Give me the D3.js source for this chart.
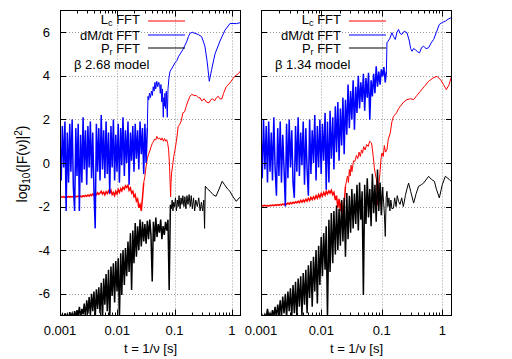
<!DOCTYPE html>
<meta charset="utf-8">
<style>
body { margin: 0; background: #fff; }
svg { font-family: "Liberation Sans", Arial, sans-serif; font-size: 13px; }
.grid line { stroke: #9a9a9a; stroke-width: 1; stroke-dasharray: 1,2; }
.frame { fill: none; stroke: #000; stroke-width: 1; }
.ticks line { stroke: #000; stroke-width: 1; }
.series { fill: none; }
</style>
<svg width="512" height="359"></svg>
<script src="https://d3js.org/d3.v7.min.js"></script>
<script>

// periods (s) of the densely sampled low-t part shared by every spectrum
var tGrid = [0.00100,0.00105,0.00110,0.00116,0.00122,0.00128,0.00134,0.00141,0.00148,0.00155,
  0.00163,0.00171,0.00180,0.00189,0.00198,0.00208,0.00218,0.00229,0.00241,0.00253,
  0.00265,0.00279,0.00293,0.00307,0.00323,0.00339,0.00356,0.00373,0.00392,0.00412,
  0.00432,0.00454,0.00476,0.00500,0.00525,0.00552,0.00579,0.00608,0.00638,0.00670,
  0.00704,0.00739,0.00776,0.00815,0.00856,0.00899,0.00943,0.00991,0.0104,0.0109,
  0.0115,0.0120,0.0126,0.0133,0.0139,0.0146,0.0154,0.0161,0.0170,0.0178,
  0.0187,0.0196,0.0206,0.0216,0.0227,0.0238,0.0250,0.0263,0.0276,0.0290,
  0.0304,0.0319,0.0335,0.0352,0.0370,0.0388,0.0408,0.0428,0.0449,0.0472,
  0.0495,0.0520,0.0546,0.0574,0.0602,0.0632,0.0664,0.0697,0.0732,0.0769,
  0.0807,0.0848,0.0890,0.0935,0.0981,0.103,0.108,0.114,0.119];

// ---- beta 2.68 model (left panel)
var lcLeftNoise = [-1.58,-1.55,-1.57,-1.54,-1.58,-1.55,-1.57,-1.53,-1.57,-1.54,
  -1.56,-1.52,-1.57,-1.53,-1.55,-1.51,-1.56,-1.52,-1.55,-1.50,
  -1.54,-1.49,-1.53,-1.47,-1.52,-1.45,-1.50,-1.42,-1.48,-1.40,
  -1.46,-1.36,-1.44,-1.38,-1.30,-1.42,-1.34,-1.46,-1.32,-1.40,
  -1.28,-1.38,-1.25,-1.45,-1.35,-1.50,-1.30,-1.42,-1.22,-1.35,
  -1.18,-1.28,-1.12,-1.20,-1.05,-1.12,-1.02,-1.25,-1.15,-1.38,
  -1.30,-1.55,-1.45,-1.75,-1.65,-2.05,-1.90,-2.20,-1.60,-0.90];
var lcLeftTail = [[0.0304,-0.62],[0.0319,-0.15],[0.0335,0.2],[0.0352,0.4],[0.037,0.55],[0.039,0.75],
  [0.041,0.9],[0.043,1.0],[0.045,1.1],[0.047,1.05],[0.049,1.22],[0.052,1.1],[0.055,1.15],
  [0.058,1.05],[0.061,1.15],[0.064,1.0],[0.067,1.12],[0.070,1.0],[0.073,1.07],[0.076,0.9],
  [0.079,0.6],[0.082,-0.15],[0.084,-1.0],[0.0855,-1.55],[0.087,-0.9],[0.089,-0.46],[0.093,-0.1],
  [0.097,0.3],[0.102,0.61],[0.108,1.0],[0.116,1.68],[0.122,1.75],[0.13,1.9],[0.14,2.3],
  [0.15,2.35],[0.16,2.6],[0.17,2.8],[0.186,3.06],[0.20,3.15],[0.22,3.1],[0.24,3.1],[0.26,3.0],
  [0.28,2.99],[0.30,2.85],[0.33,2.95],[0.36,2.8],[0.40,2.76],[0.43,2.9],[0.46,2.95],[0.50,2.85],
  [0.54,3.0],[0.58,3.06],[0.62,2.95],[0.67,2.94],[0.72,3.2],[0.80,3.5],[0.93,3.68],[1.1,3.95],
  [1.3,4.1],[1.45,4.25]];

var dmLeftNoise = [1.2,-0.8,1.7,-0.2,1.9,-2.2,1.4,-0.9,1.8,-0.4,
  2.0,-1.1,-2.2,1.6,-0.6,1.8,-2.2,1.3,-0.9,2.1,
  -0.3,1.5,-1.0,1.7,-0.2,1.9,-0.7,1.4,-1.3,-3.0,
  1.8,-0.4,1.6,-0.8,2.2,-0.3,1.5,-0.7,1.9,-0.5,
  1.4,-1.4,1.7,-0.2,2.0,-0.8,1.3,-0.4,1.8,-0.9,
  1.6,-0.1,2.1,-0.6,1.5,0.0,1.9,-1.0,1.4,0.1,
  1.7,-0.4,1.8,0.2,1.5,-0.3,1.9,0.4,1.6,-0.5,
  1.8,0.0,1.6];
var dmLeftTail = [[0.0344,3.06],[0.0355,2.9],[0.0365,3.2],[0.0380,3.0],[0.0395,3.3],[0.0410,3.1],
  [0.0425,3.5],[0.0440,3.3],[0.0456,3.7],[0.0470,3.4],[0.0490,3.75],[0.0510,3.5],[0.0530,3.7],
  [0.0550,3.6],[0.0565,3.2],[0.0580,3.6],[0.0600,2.8],[0.0615,3.4],[0.0637,2.1],[0.0650,3.0],
  [0.0665,2.6],[0.0680,3.2],[0.0700,2.5],[0.0720,3.3],[0.0748,2.1],[0.0770,3.4],[0.0800,3.9],
  [0.0834,4.2],[0.0880,4.3],[0.095,4.45],[0.102,4.6],[0.110,4.7],[0.118,4.9],[0.125,5.0],
  [0.140,5.2],[0.152,5.4],[0.165,5.6],[0.175,5.8],[0.186,5.95],[0.205,6.0],[0.228,5.95],
  [0.26,5.9],[0.298,5.8],[0.34,5.36],[0.374,4.6],[0.405,3.75],[0.446,4.3],[0.509,5.0],
  [0.623,5.6],[0.762,6.1],[0.931,6.4],[1.22,6.4],[1.45,6.45]];

var prLeftNoise = [-7.2,-7.1,-6.95,-7.2,-6.9,-7.1,-6.95,-7.2,-6.85,-7.05,
  -6.9,-7.15,-6.8,-7.1,-6.75,-7.0,-6.6,-7.1,-6.7,-6.95,
  -6.45,-7.1,-6.3,-6.9,-6.15,-7.0,-6.0,-6.8,-5.9,-7.1,
  -5.8,-6.7,-5.7,-6.9,-5.5,-7.2,-5.3,-6.5,-5.1,-6.8,
  -4.9,-7.2,-4.75,-6.1,-4.6,-6.4,-4.5,-5.9,-4.37,-7.2,
  -4.14,-6.06,-4.0,-5.6,-3.9,-5.2,-3.6,-5.0,-3.22,-5.83,
  -3.1,-4.6,-2.76,-4.3,-2.9,-4.0,-2.6,-3.83,-2.7,-3.6,
  -2.8,-3.7,-2.65,-3.5,-2.6,-3.3,-5.44,-2.7,-3.6,-2.5,
  -3.4,-2.8,-3.2,-2.6,-3.5,-2.9,-3.3,-2.7,-3.1,-2.6,
  -5.83,-1.92];
var prLeftTail = [[0.088,-2.1],[0.091,-1.7],[0.094,-2.2],[0.097,-1.8],[0.100,-2.0],[0.104,-1.6],
  [0.108,-2.2],[0.112,-1.7],[0.116,-2.0],[0.120,-1.5],[0.125,-2.1],[0.130,-1.6],[0.135,-1.9],
  [0.140,-1.5],[0.146,-2.0],[0.152,-1.55],[0.158,-2.1],[0.165,-1.5],[0.172,-1.9],[0.180,-1.45],
  [0.188,-2.0],[0.196,-1.5],[0.205,-2.1],[0.215,-1.6],[0.225,-2.2],[0.235,-1.7],[0.250,-2.0],
  [0.265,-1.6],[0.280,-2.2],[0.295,-1.8],[0.310,-2.2],[0.325,-1.7],[0.335,-3.0],[0.345,-1.07],
  [0.38,-1.2],[0.42,-1.3],[0.47,-1.45],[0.53,-1.53],[0.60,-1.2],[0.68,-0.84],[0.75,-1.0],
  [0.85,-1.2],[0.93,-1.3],[1.05,-1.55],[1.2,-1.76],[1.35,-1.6],[1.45,-1.53]];

// ---- beta 1.34 model (right panel)
var lcRightNoise = [-1.98,-1.95,-1.97,-1.94,-1.97,-1.95,-1.98,-1.94,-1.96,-1.93,
  -1.96,-1.92,-1.95,-1.91,-1.94,-1.90,-1.93,-1.88,-1.92,-1.86,
  -1.90,-1.84,-1.89,-1.82,-1.87,-1.80,-1.85,-1.78,-1.83,-1.75,
  -1.82,-1.72,-1.80,-1.70,-1.78,-1.66,-1.75,-1.62,-1.72,-1.58,
  -1.68,-1.55,-1.65,-1.50,-1.62,-1.45,-1.58,-1.40,-1.52,-1.35,
  -1.48,-1.30,-1.42,-1.28,-1.38,-1.25,-1.45,-1.35,-1.70,-1.50,
  -2.05,-1.65,-2.20,-1.75,-2.38,-1.90,-1.07];
var lcRightTail = [[0.0270,-0.6],[0.0280,-0.9],[0.0290,-0.3],[0.0299,-0.6],[0.031,-0.1],[0.032,-0.4],
  [0.034,0.1],[0.0358,0.07],[0.038,0.35],[0.040,0.2],[0.042,0.5],[0.044,0.3],[0.0461,0.6],
  [0.048,0.45],[0.050,0.75],[0.053,0.6],[0.056,0.85],[0.0595,0.76],[0.063,1.0],[0.0675,0.92],
  [0.070,0.6],[0.072,0.3],[0.075,-0.2],[0.078,-0.5],[0.0817,-0.77],[0.0849,-1.92],[0.0882,-1.2],
  [0.093,-0.46],[0.097,0.2],[0.1004,0.46],[0.1055,0.3],[0.110,0.8],[0.115,0.5],[0.1216,0.61],
  [0.1277,1.07],[0.1378,1.38],[0.147,1.9],[0.156,2.14],[0.175,2.3],[0.19,2.5],[0.202,2.6],
  [0.23,2.8],[0.261,2.91],[0.30,2.95],[0.336,2.91],[0.38,3.1],[0.433,3.29],[0.50,3.5],
  [0.595,3.75],[0.70,3.9],[0.82,3.98],[0.95,3.8],[1.05,3.6],[1.17,3.37],[1.30,3.6],[1.40,3.91],
  [1.46,4.0]];

var dmRightNoise = [1.5,-0.7,2.0,-0.3,1.7,-0.9,1.9,-0.4,1.4,-0.8,
  2.1,-0.2,-1.5,1.6,-0.6,1.9,-0.9,1.3,-0.3,-2.0,
  1.8,-0.7,2.0,-0.2,1.5,-0.9,-1.6,1.7,-0.4,2.1,
  -0.6,1.4,-0.1,1.9,-1.0,1.6,-0.3,-1.5,2.0,-0.5,
  1.5,0.0,2.2,-0.8,1.7,-0.2,2.0,-0.5,1.8,0.1,
  2.3,-1.23,1.9,-0.9,2.4,0.2,2.1,-0.3,2.6,0.5,
  2.8,0.1,2.5,0.8,3.0,0.4,2.9,1.3,3.6,1.6,
  3.3,2.0,3.8,1.53,3.5,2.3,4.0,2.5,3.7,2.8,
  4.1,2.4,3.9,3.0,4.14,1.99,3.8,3.06,4.1,3.2,
  4.44,3.5,4.2,3.6,4.3,3.98,4.4,3.7,4.21];
var dmRightTail = [[0.1216,5.52],[0.135,5.7],[0.147,5.98],[0.157,5.8],[0.167,5.67],[0.178,6.0],
  [0.189,6.13],[0.200,5.95],[0.215,5.9],[0.235,6.05],[0.261,5.98],[0.285,5.6],[0.300,5.25],
  [0.316,5.13],[0.335,5.25],[0.358,5.21],[0.390,5.1],[0.422,5.06],[0.455,5.3],[0.492,5.36],
  [0.540,5.25],[0.595,5.29],[0.650,5.5],[0.720,5.67],[0.80,6.0],[0.895,6.36],[1.0,6.45],
  [1.125,6.51],[1.25,6.6],[1.40,6.67],[1.46,6.7]];

var prRightNoise = [-7.2,-7.0,-7.15,-6.95,-7.1,-6.7,-7.05,-6.9,-7.1,-6.75,
  -7.05,-6.6,-7.1,-6.5,-7.0,-6.3,-7.1,-6.13,-6.9,-6.0,
  -7.1,-5.9,-6.8,-5.75,-7.05,-5.6,-6.9,-5.45,-7.1,-5.3,
  -6.6,-5.2,-7.0,-5.05,-6.5,-4.9,-6.9,-4.7,-6.2,-4.5,
  -6.6,-4.3,-5.9,-4.0,-6.45,-3.8,-5.6,-3.4,-5.2,-3.22,
  -4.9,-2.9,-7.1,-2.6,-5.0,-2.3,-4.6,-2.2,-4.2,-1.95,
  -4.0,-2.1,-3.8,-1.7,-3.6,-1.6,-4.3,-1.38,-3.5,-1.5,
  -3.2,-1.2,-3.0,-1.4,-2.8,-1.0,-3.1,-0.9,-2.6,-1.3,
  -6.06,-1.0,-2.8,-0.7,-2.5,-1.2,-2.9,-0.5,-2.3,-1.0,
  -2.7,-0.3,-2.2,-0.9,-2.4,-1.1];
var prRightTail = [[0.107,-1.8],[0.110,-2.3],[0.114,-3.37],[0.118,-1.6],[0.1216,-1.3],[0.126,-2.0],
  [0.131,-1.6],[0.136,-2.2],[0.141,-1.7],[0.147,-2.1],[0.156,-2.07],[0.163,-1.6],[0.172,-2.0],
  [0.180,-1.5],[0.189,-1.76],[0.200,-1.9],[0.213,-1.6],[0.227,-2.0],[0.245,-1.5],[0.260,-1.2],
  [0.277,-0.92],[0.30,-1.3],[0.336,-1.84],[0.37,-1.4],[0.406,-1.07],[0.45,-1.0],[0.492,-0.92],
  [0.595,-0.61],[0.66,-0.75],[0.740,-0.84],[0.80,-1.2],[0.895,-1.6],[1.0,-1.0],[1.125,-0.61],
  [1.3,-0.75],[1.40,-0.84],[1.46,-0.9]];

var yTicks = [-6, -4, -2, 0, 2, 4, 6];
var xTicks = [0.001, 0.01, 0.1, 1];
var xTickLabels = ["0.001", "0.01", "0.1", "1"];
var seriesNames = ["FFT", "dM/dt FFT", "FFT"];
var seriesColors = ["#ff0000", "#0000ff", "#000000"];

// noisy part and smooth tail are drawn as two joined paths
function build(noise, tail) {
  var pts = noise.map(function(y, i) { return [tGrid[i], y]; });
  return { noise: pts, tail: [pts[pts.length - 1]].concat(tail) };
}

var panels = [
  { id: "a", x0: 60, x1: 241, model: "\u03b2 2.68 model", yLabels: true,
    series: [build(lcLeftNoise, lcLeftTail), build(dmLeftNoise, dmLeftTail), build(prLeftNoise, prLeftTail)] },
  { id: "b", x0: 261, x1: 452, model: "\u03b2 1.34 model", yLabels: false,
    series: [build(lcRightNoise, lcRightTail), build(dmRightNoise, dmRightTail), build(prRightNoise, prRightTail)] }
];

var svg = d3.select("svg");
svg.append("rect").attr("width", 512).attr("height", 359).attr("fill", "#fff");

var y = d3.scaleLinear().domain([-7, 7]).range([315.5, 10.5]);

panels.forEach(function(p) {
  var x = d3.scaleLog().domain([0.001, 1.45]).range([p.x0, p.x1]);
  var g = svg.append("g");

  // dotted grid
  var grid = g.append("g").attr("class", "grid");
  grid.selectAll(".gx").data(xTicks.slice(1)).enter().append("line")
      .attr("x1", function(d) { return Math.round(x(d)) + 0.5; })
      .attr("x2", function(d) { return Math.round(x(d)) + 0.5; })
      .attr("y1", y(7)).attr("y2", y(-7));
  grid.selectAll(".gy").data(yTicks).enter().append("line")
      .attr("x1", p.x0).attr("x2", p.x1)
      .attr("y1", function(d) { return Math.round(y(d)) + 0.5; })
      .attr("y2", function(d) { return Math.round(y(d)) + 0.5; });

  // data
  g.append("clipPath").attr("id", "clip" + p.id).append("rect")
      .attr("x", p.x0).attr("y", y(7)).attr("width", p.x1 - p.x0).attr("height", y(-7) - y(7));
  var line = d3.line().x(function(d) { return x(d[0]); }).y(function(d) { return y(d[1]); });
  var data = g.append("g").attr("clip-path", "url(#clip" + p.id + ")");
  p.series.forEach(function(s, i) {
    data.append("path").attr("class", "series")
        .attr("stroke", seriesColors[i]).attr("stroke-width", 1.5)
        .attr("d", line(s.noise));
    data.append("path").attr("class", "series")
        .attr("stroke", seriesColors[i]).attr("stroke-width", 1)
        .attr("d", line(s.tail));
  });

  // ticks (inside, mirrored)
  var ticks = g.append("g").attr("class", "ticks");
  x.ticks().forEach(function(t) {
    var major = Math.abs(Math.log10(t) - Math.round(Math.log10(t))) < 1e-6;
    var len = major ? 6 : 3;
    var xx = Math.round(x(t)) + 0.5;
    ticks.append("line").attr("x1", xx).attr("x2", xx).attr("y1", y(-7)).attr("y2", y(-7) - len);
    ticks.append("line").attr("x1", xx).attr("x2", xx).attr("y1", y(7)).attr("y2", y(7) + len);
  });
  yTicks.forEach(function(t) {
    var yy = Math.round(y(t)) + 0.5;
    ticks.append("line").attr("x1", p.x0).attr("x2", p.x0 + 6).attr("y1", yy).attr("y2", yy);
    ticks.append("line").attr("x1", p.x1).attr("x2", p.x1 - 6).attr("y1", yy).attr("y2", yy);
  });

  g.append("rect").attr("class", "frame")
      .attr("x", p.x0 + 0.5).attr("y", y(7)).attr("width", p.x1 - p.x0 - 1).attr("height", y(-7) - y(7));

  // tick labels
  g.selectAll(".xl").data(xTicks).enter().append("text")
      .attr("x", function(d) { return x(d); })
      .attr("y", 335)
      .attr("text-anchor", "middle")
      .text(function(d, i) { return xTickLabels[i]; });
  if (p.yLabels) {
    g.selectAll(".yl").data(yTicks).enter().append("text")
        .attr("x", 50)
        .attr("y", function(d) { return y(d); })
        .attr("dy", "0.35em")
        .attr("text-anchor", "end")
        .text(function(d) { return d; });
  }

  g.append("text")
      .attr("x", (p.x0 + p.x1) / 2).attr("y", 353)
      .attr("text-anchor", "middle")
      .text("t = 1/\u03bd [s]");

  // legend: text baselines and sample-line heights
  var textRows = [24, 39.5, 53];
  var lineRows = [21, 35, 48];
  textRows.forEach(function(ty, i) {
    var t = g.append("text").attr("x", p.x0 + 80).attr("y", ty).attr("text-anchor", "end");
    if (i == 0 || i == 2) {
      t.append("tspan").text(i == 0 ? "L" : "P");
      t.append("tspan").attr("dy", 2).attr("font-size", "9px").text(i == 0 ? "c" : "r");
      t.append("tspan").attr("dy", -2).text(" " + seriesNames[i]);
    } else {
      t.text(seriesNames[i]);
    }
    g.append("line")
        .attr("x1", p.x0 + 88).attr("x2", p.x0 + 125)
        .attr("y1", lineRows[i]).attr("y2", lineRows[i])
        .attr("stroke", seriesColors[i]).attr("stroke-width", 1);
  });
  g.append("text").attr("x", p.x0 + 14).attr("y", 68.5).text(p.model);
});

// y axis title
var yt = svg.append("text")
    .attr("font-size", "14px")
    .attr("transform", "translate(27,164) rotate(-90)")
    .attr("text-anchor", "middle");
yt.append("tspan").text("log");
yt.append("tspan").attr("dy", 3).attr("font-size", "10px").text("10");
yt.append("tspan").attr("dy", -3).text("(|F(\u03bd)|");
yt.append("tspan").attr("dy", -5).attr("font-size", "10px").text("2");
yt.append("tspan").attr("dy", 5).text(")");

</script>
